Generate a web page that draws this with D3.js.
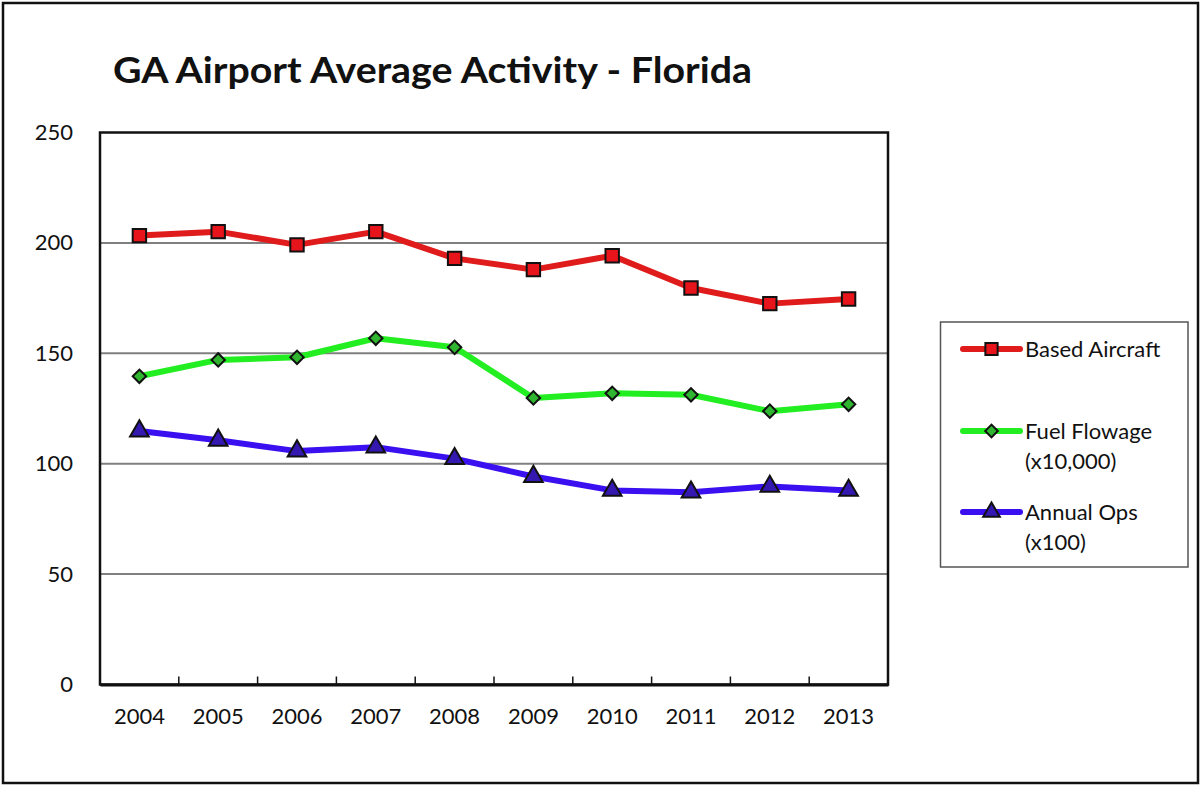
<!DOCTYPE html>
<html>
<head>
<meta charset="utf-8">
<script src="https://cdn.jsdelivr.net/npm/d3@7/dist/d3.min.js"></script>
<style>
  html, body { margin: 0; padding: 0; background: #fff; }
  svg { display: block; }
  text { font-family: Lato, "Open Sans", "DejaVu Sans", sans-serif; fill: #111; }
</style>
</head>
<body>
<svg id="chart" width="1200" height="786"></svg>
<script>
const years = ["2004","2005","2006","2007","2008","2009","2010","2011","2012","2013"];
const basedAircraft = [203.3, 205.1, 199.1, 205.1, 193.0, 187.9, 194.2, 179.6, 172.5, 174.6];
const fuelFlowage   = [139.6, 147.0, 148.2, 156.8, 152.7, 129.8, 131.9, 131.2, 123.8, 126.9];
const annualOps     = [114.8, 110.6, 105.7, 107.5, 102.3, 94.2, 87.9, 87.1, 89.7, 87.9];
const yTicks = [0, 50, 100, 150, 200, 250];
const seriesNames = ["Based Aircraft", "Fuel Flowage", "Annual Ops"];
const seriesSubNames = ["", "(x10,000)", "(x100)"];
const titleText = "GA Airport Average Activity - Florida";

const series = [
  { name: seriesNames[0], sub: seriesSubNames[0], values: basedAircraft, color: "#e01b1b", fill: "#e8141b", symbol: d3.symbolSquare, rot: 0, size: 180, lsize: 150 },
  { name: seriesNames[1], sub: seriesSubNames[1], values: fuelFlowage, color: "#22ee22", fill: "#2fb52f", symbol: d3.symbolSquare, rot: 45, size: 90, lsize: 80 },
  { name: seriesNames[2], sub: seriesSubNames[2], values: annualOps, color: "#3a0ff0", fill: "#3418b0", symbol: d3.symbolTriangle, rot: 0, size: 150, lsize: 120 }
];

const svg = d3.select("#chart");

// outer frame
svg.append("rect").attr("x", 3).attr("y", 3).attr("width", 1195).attr("height", 780)
  .attr("fill", "#fff").attr("stroke", "#111").attr("stroke-width", 2.5);

// title
svg.append("text").attr("x", 113).attr("y", 83)
  .attr("font-size", 36).attr("font-weight", "bold")
  .attr("textLength", 639).attr("lengthAdjust", "spacingAndGlyphs")
  .text(titleText);

const plot = { left: 100, right: 888, top: 132.5, bottom: 684.5 };

const x = d3.scaleBand().domain(years).range([plot.left, plot.right]).paddingInner(0).paddingOuter(0);
const y = d3.scaleLinear().domain([0, 250]).range([plot.bottom, plot.top]);
const cx = d => x(d) + x.bandwidth() / 2;

// gridlines
svg.append("g").selectAll("line").data(yTicks.filter(t => t > 0 && t < 250)).join("line")
  .attr("x1", plot.left).attr("x2", plot.right)
  .attr("y1", d => y(d)).attr("y2", d => y(d))
  .attr("stroke", "#808080").attr("stroke-width", 2);

// plot box
svg.append("rect").attr("x", plot.left).attr("y", plot.top)
  .attr("width", plot.right - plot.left).attr("height", plot.bottom - plot.top)
  .attr("fill", "none").attr("stroke", "#111").attr("stroke-width", 2.5);

// y axis labels
const yAxis = svg.append("g").attr("transform", `translate(${plot.left},0)`)
  .call(d3.axisLeft(y).tickValues(yTicks).tickSize(0).tickPadding(27));
yAxis.select(".domain").remove();
yAxis.selectAll("text").attr("font-size", 22).attr("fill", "#111")
  .style("font-family", "Lato, 'Open Sans', sans-serif");

// x axis labels
const xAxis = svg.append("g").attr("transform", `translate(0,${plot.bottom})`)
  .call(d3.axisBottom(x).tickSize(0).tickPadding(24));
xAxis.select(".domain").attr("stroke", "#111").attr("stroke-width", 3);
xAxis.selectAll("text").attr("font-size", 22).attr("fill", "#111")
  .style("font-family", "Lato, 'Open Sans', sans-serif");

// tick marks between categories (pointing up)
svg.append("g").selectAll("line").data(years.slice(1)).join("line")
  .attr("x1", d => x(d)).attr("x2", d => x(d))
  .attr("y1", plot.bottom).attr("y2", plot.bottom - 8)
  .attr("stroke", "#111").attr("stroke-width", 1.5);

// lines and markers
const line = d3.line().x((d, i) => cx(years[i])).y(d => y(d));
series.forEach(s => {
  svg.append("path").datum(s.values)
    .attr("d", line).attr("fill", "none")
    .attr("stroke", s.color).attr("stroke-width", 6)
    .attr("stroke-linejoin", "round").attr("stroke-linecap", "round");
});
series.forEach(s => {
  const sym = d3.symbol().type(s.symbol).size(s.size);
  svg.append("g").selectAll("path").data(s.values).join("path")
    .attr("d", sym)
    .attr("transform", (d, i) => `translate(${cx(years[i])},${y(d)}) rotate(${s.rot})`)
    .attr("fill", s.fill).attr("stroke", "#111").attr("stroke-width", 2);
});

// legend
const legend = svg.append("g");
legend.append("rect").attr("x", 940.5).attr("y", 322).attr("width", 247.5).attr("height", 245)
  .attr("fill", "#fff").attr("stroke", "#555").attr("stroke-width", 1.5);
const legendRows = [349, 431, 512];
series.forEach((s, i) => {
  const yy = legendRows[i];
  legend.append("line").attr("x1", 963).attr("x2", 1020).attr("y1", yy).attr("y2", yy)
    .attr("stroke", s.color).attr("stroke-width", 6).attr("stroke-linecap", "round");
  legend.append("path").attr("d", d3.symbol().type(s.symbol).size(s.lsize))
    .attr("transform", `translate(991.5,${yy}) rotate(${s.rot})`)
    .attr("fill", s.fill).attr("stroke", "#111").attr("stroke-width", 2);
  legend.append("text").attr("x", 1025).attr("y", yy).attr("dy", "0.35em")
    .attr("font-size", 22).text(s.name);
  if (s.sub) {
    legend.append("text").attr("x", 1025).attr("y", yy + 30).attr("dy", "0.35em")
      .attr("font-size", 22).text(s.sub);
  }
});
</script>
</body>
</html>
